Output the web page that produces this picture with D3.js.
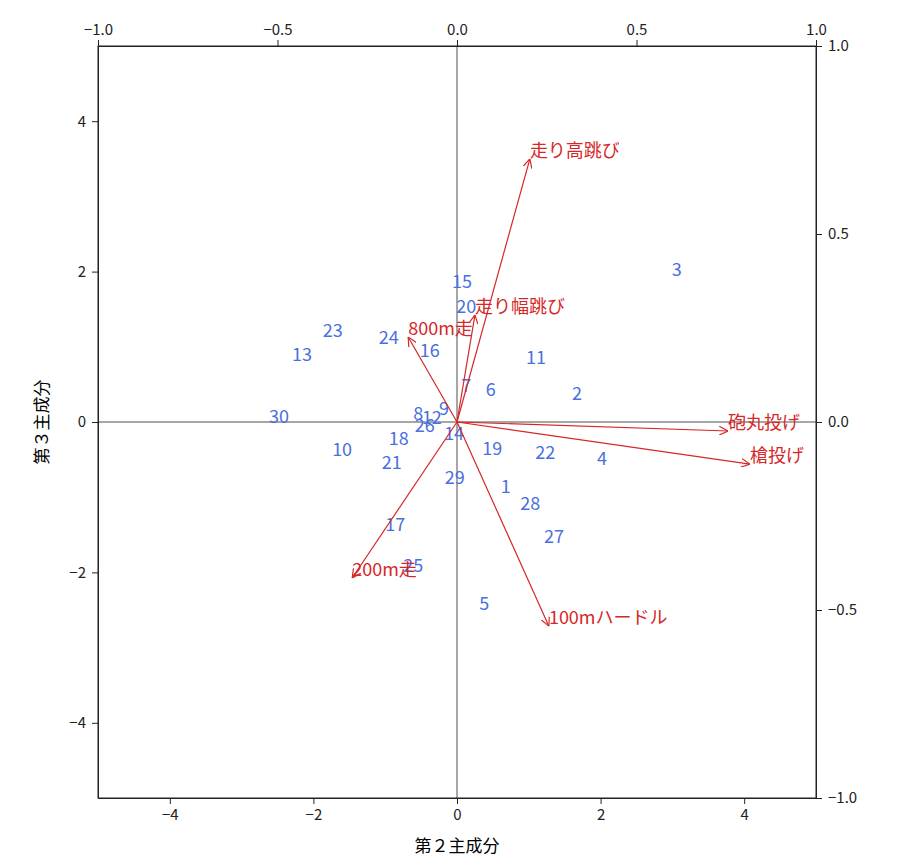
<!DOCTYPE html><html><head><meta charset="utf-8"><script src="https://cdn.jsdelivr.net/npm/d3@7"></script>
<style>body{margin:0;background:#fff}text{font-family:"Noto Sans CJK JP","DejaVu Sans",sans-serif}</style></head><body><svg id="c" width="899" height="868"></svg>
<script>
const ids=[1,2,3,4,5,6,7,8,9,10,11,12,13,14,15,16,17,18,19,20,21,22,23,24,25,26,27,28,29,30];
const pc2=[0.68,1.67,3.06,2.02,0.38,0.47,0.13,-0.54,-0.18,-1.60,1.10,-0.35,-2.16,-0.04,0.07,-0.38,-0.86,-0.81,0.49,0.13,-0.91,1.23,-1.73,-0.95,-0.61,-0.45,1.35,1.02,-0.03,-2.48];
const pc3=[-0.84,0.40,2.05,-0.47,-2.39,0.45,0.50,0.13,0.20,-0.35,0.88,0.08,0.92,-0.13,1.89,0.97,-1.34,-0.20,-0.33,1.56,-0.52,-0.39,1.24,1.14,-1.89,-0.03,-1.50,-1.06,-0.72,0.09];
const vars=["走り高跳び","走り幅跳び","800m走","砲丸投げ","槍投げ","100mハードル","200m走"];
const ld2=[0.203,0.05,-0.136,0.755,0.816,0.256,-0.292];
const ld3=[0.70,0.285,0.226,-0.024,-0.112,-0.543,-0.415];
const ticksMain=[-4,-2,0,2,4], ticksSec=[-1,-0.5,0,0.5,1];
const svg=d3.select("#c"),L=98,R=816,T=46,B=798;
const x=d3.scaleLinear([-5,5],[L,R]),y=d3.scaleLinear([-5,5],[B,T]);
const x2=d3.scaleLinear([-1,1],[L,R]),y2=d3.scaleLinear([-1,1],[B,T]);
const fmt=d=>String(d).replace("-","−"), fmt2=d=>d3.format(".1f")(d).replace("-","−");
function style(g){g.selectAll("text").style("font-size","15px").attr("fill","#222");g.selectAll("line,path").attr("stroke","#222");}
svg.append("g").attr("transform",`translate(0,${B})`).call(d3.axisBottom(x).tickValues(ticksMain).tickFormat(fmt).tickSizeOuter(0).tickPadding(5)).call(style);
svg.append("g").attr("transform",`translate(${L},0)`).call(d3.axisLeft(y).tickValues(ticksMain).tickFormat(fmt).tickSizeOuter(0).tickPadding(6)).call(style);
svg.append("g").attr("transform",`translate(0,${T})`).call(d3.axisTop(x2).tickValues(ticksSec).tickFormat(fmt2).tickSizeOuter(0).tickPadding(5)).call(style);
svg.append("g").attr("transform",`translate(${R},0)`).call(d3.axisRight(y2).tickValues(ticksSec).tickFormat(fmt2).tickSizeOuter(0).tickPadding(6)).call(style);
svg.append("rect").attr("x",L).attr("y",T).attr("width",R-L).attr("height",B-T).attr("fill","none").attr("stroke","#222");
svg.append("line").attr("x1",x(0)).attr("x2",x(0)).attr("y1",T).attr("y2",B).attr("stroke","#222").attr("stroke-width",0.8);
svg.append("line").attr("x1",L).attr("x2",R).attr("y1",y(0)).attr("y2",y(0)).attr("stroke","#222").attr("stroke-width",0.8);
svg.append("text").attr("x",(L+R)/2).attr("y",852).attr("text-anchor","middle").style("font-size","17px").text("第２主成分");
svg.append("text").attr("transform",`translate(48,${(T+B)/2}) rotate(-90)`).attr("text-anchor","middle").style("font-size","17px").text("第３主成分");
svg.append("defs").append("marker").attr("id","ah").attr("viewBox","0 0 10 10").attr("refX",10).attr("refY",5).attr("markerWidth",9).attr("markerHeight",9).attr("markerUnits","userSpaceOnUse").attr("orient","auto")
 .append("path").attr("d","M0,0L10,5L0,10").attr("fill","none").attr("stroke","#d62728").attr("stroke-width",1.3);
svg.selectAll(".pt").data(ids).enter().append("text").attr("x",(d,i)=>x(pc2[i])).attr("y",(d,i)=>y(pc3[i])).attr("text-anchor","middle").attr("dominant-baseline","central").attr("fill","#4a6fe0").style("font-size","18px").text(d=>d);
vars.forEach((v,i)=>{
 svg.append("line").attr("x1",x2(0)).attr("y1",y2(0)).attr("x2",x2(ld2[i])).attr("y2",y2(ld3[i])).attr("stroke","#d62728").attr("stroke-width",1.2).attr("marker-end","url(#ah)");
 svg.append("text").attr("x",x2(ld2[i])).attr("y",y2(ld3[i])-10).attr("dominant-baseline","central").attr("fill","#d62728").style("font-size","18px").text(v);
});
</script></body></html>
